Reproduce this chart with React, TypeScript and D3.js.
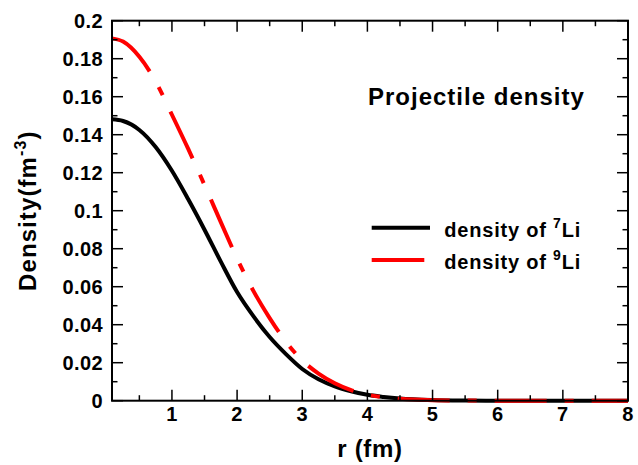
import React from "react";
import * as d3 from "d3";

// Radial grid (fm)
const radii = [0.08, 0.25, 0.5, 0.75, 1.0, 1.25, 1.5, 1.75, 2.0, 2.25, 2.5, 2.75, 3.0, 3.25, 3.5, 3.75, 4.0, 4.25, 4.5, 5.0, 5.5, 6.0, 6.5, 7.0, 7.5, 8.0];

// Density of 7Li (fm^-3)
const li7Density = [0.1481, 0.1472, 0.1425, 0.1335, 0.121, 0.106, 0.0900, 0.0732, 0.0572, 0.0445, 0.0335, 0.0245, 0.0167, 0.0113, 0.0076, 0.005, 0.0031, 0.002, 0.0012, 0.0004, 0.0001, 0, 0, 0, 0, 0];

// Density of 9Li (fm^-3)
const li9Density = [0.1907, 0.189, 0.181, 0.168, 0.1505, 0.1325, 0.1135, 0.094, 0.0748, 0.0578, 0.0435, 0.031, 0.0212, 0.0143, 0.0092, 0.0056, 0.0032, 0.0018, 0.001, 0.0003, 0.0001, 0, 0, 0, 0, 0];

const xMajorTicks = [1, 2, 3, 4, 5, 6, 7, 8];
const xMinorTicks = [0.5, 1.5, 2.5, 3.5, 4.5, 5.5, 6.5, 7.5];
const yMajorTicks = [0, 0.02, 0.04, 0.06, 0.08, 0.1, 0.12, 0.14, 0.16, 0.18, 0.2];
const yMinorTicks = [0.01, 0.03, 0.05, 0.07, 0.09, 0.11, 0.13, 0.15, 0.17, 0.19];

const W = 638;
const H = 465;
const left = 112;
const right = 628;
const top = 20.7;
const bottom = 400.7;
const FONT = "'Liberation Sans', Arial, Helvetica, sans-serif";

export default function App() {
  const x = d3.scaleLinear().domain([0.08, 8]).range([left, right]);
  const y = d3.scaleLinear().domain([0, 0.2]).range([bottom, top]);

  const line = d3
    .line<[number, number]>()
    .x((d) => x(d[0]))
    .y((d) => y(d[1]))
    .curve(d3.curveMonotoneX);

  const li7Path = line(radii.map((r, i) => [r, li7Density[i]] as [number, number])) || "";
  const li9Path = line(radii.map((r, i) => [r, li9Density[i]] as [number, number])) || "";

  const majorLen = 11;
  const minorLen = 5.5;

  const fmtY = (v: number) => (v === 0 ? "0" : String(+v.toFixed(2)));

  return (
    <svg
      width={W}
      height={H}
      style={{ position: "absolute", left: 0, top: 0, background: "#fff" }}
      fontFamily={FONT}
      fontWeight="bold"
    >
      <rect x={0} y={0} width={W} height={H} fill="#fff" />

      {/* curves */}
      <path d={li7Path} fill="none" stroke="#000" strokeWidth={4} />
      <path d={li9Path} fill="none" stroke="#ff0000" strokeWidth={4} strokeDasharray="52,18,9,18" />

      {/* frame */}
      <rect x={left} y={top} width={right - left} height={bottom - top} fill="none" stroke="#000" strokeWidth={2} />

      {/* x ticks, bottom and top */}
      {xMajorTicks.map((t) => (
        <g key={"xM" + t}>
          <line x1={x(t)} x2={x(t)} y1={bottom} y2={bottom - majorLen} stroke="#000" strokeWidth={1.5} />
          <line x1={x(t)} x2={x(t)} y1={top} y2={top + majorLen} stroke="#000" strokeWidth={1.5} />
          <text x={x(t)} y={420.5} textAnchor="middle" fontSize={20} letterSpacing={0.4}>
            {t}
          </text>
        </g>
      ))}
      {xMinorTicks.map((t) => (
        <g key={"xm" + t}>
          <line x1={x(t)} x2={x(t)} y1={bottom} y2={bottom - minorLen} stroke="#000" strokeWidth={1.5} />
          <line x1={x(t)} x2={x(t)} y1={top} y2={top + minorLen} stroke="#000" strokeWidth={1.5} />
        </g>
      ))}

      {/* y ticks, left and right */}
      {yMajorTicks.map((t) => (
        <g key={"yM" + t}>
          <line x1={left} x2={left + majorLen} y1={y(t)} y2={y(t)} stroke="#000" strokeWidth={1.5} />
          <line x1={right} x2={right - majorLen} y1={y(t)} y2={y(t)} stroke="#000" strokeWidth={1.5} />
          <text x={103} y={y(t) + 7} textAnchor="end" fontSize={20} letterSpacing={0.4}>
            {fmtY(t)}
          </text>
        </g>
      ))}
      {yMinorTicks.map((t) => (
        <g key={"ym" + t}>
          <line x1={left} x2={left + minorLen} y1={y(t)} y2={y(t)} stroke="#000" strokeWidth={1.5} />
          <line x1={right} x2={right - minorLen} y1={y(t)} y2={y(t)} stroke="#000" strokeWidth={1.5} />
        </g>
      ))}

      {/* axis titles */}
      <text x={(left + right) / 2} y={456.5} textAnchor="middle" fontSize={24} letterSpacing={0.7}>
        r (fm)
      </text>
      <text transform={`translate(36, ${(top + bottom) / 2}) rotate(-90)`} textAnchor="middle" fontSize={24} letterSpacing={1.1}>
        Density(fm
        <tspan fontSize={16} dy={-10}>-3</tspan>
        <tspan dy={10}>)</tspan>
      </text>

      {/* title */}
      <text x={368} y={105} fontSize={24} letterSpacing={1}>
        Projectile density
      </text>

      {/* legend */}
      <line x1={371.7} x2={430} y1={227.7} y2={227.7} stroke="#000" strokeWidth={4} />
      <text x={444.3} y={236.7} fontSize={20} letterSpacing={0.8}>
        density of <tspan fontSize={14} dy={-9}>7</tspan>
        <tspan dy={9}>Li</tspan>
      </text>
      <line x1={371.7} x2={424.3} y1={260} y2={260} stroke="#ff0000" strokeWidth={4} />
      <text x={444.3} y={269} fontSize={20} letterSpacing={0.8}>
        density of <tspan fontSize={14} dy={-9}>9</tspan>
        <tspan dy={9}>Li</tspan>
      </text>
    </svg>
  );
}
